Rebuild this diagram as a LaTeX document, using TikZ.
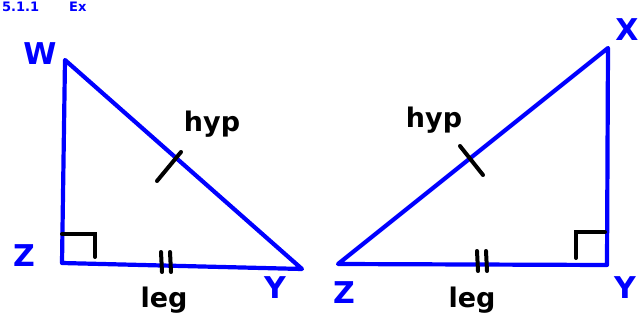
\documentclass[tikz,border=0pt]{standalone}
\usepackage{fontspec}
\setmainfont{DejaVu Sans}
\begin{document}
\begin{tikzpicture}[x=1pt,y=-1pt,
  side/.style={draw=blue,line width=4.2pt,line cap=round,line join=round},
  tickline/.style={draw=black,line width=4pt,line cap=round},
  lbl/.style={text=blue,font=\fontsize{30}{30}\selectfont\bfseries},
  word/.style={text=black,font=\fontsize{27}{27}\selectfont\bfseries}]
\useasboundingbox (0,0) rectangle (641,329);
\fill[white] (0,0) rectangle (641,329);
% heading
\node[text=blue,font=\fontsize{13}{13}\selectfont\bfseries,anchor=base west,inner sep=0pt] (hd) at (2,12) {5.1.1\hspace{30pt}Ex};
% left triangle
\coordinate (W) at (65,60);
\coordinate (Za) at (62,263);
\coordinate (Ya) at (302,269);
\draw[side] (W) -- (Za) -- (Ya) -- cycle;
\draw[tickline] (62,234) -- (95,234) -- (95,257);
\draw[tickline] (157,181) -- (181,152);
\draw[tickline] (161,252) -- (162,272);
\draw[tickline] (170,252) -- (171,272);
\node[lbl] (lW) at (40,54) {W};
\node[lbl] (lZa) at (24,256) {Z};
\node[lbl] (lYa) at (275,288) {Y};
\node[word] (hyp1) at (212,124) {hyp};
\node[word] (leg1) at (164,300) {leg};
% right triangle
\coordinate (X) at (608,48);
\coordinate (Zb) at (338,264);
\coordinate (Yb) at (607,265);
\draw[side] (Zb) -- (X) -- (Yb) -- cycle;
\draw[tickline] (576,258) -- (576,232) -- (605,232);
\draw[tickline] (460,146) -- (483,175);
\draw[tickline] (477,251) -- (478,271);
\draw[tickline] (486,251) -- (487,271);
\node[lbl] (lX) at (627,30) {X};
\node[lbl] (lZb) at (344,293) {Z};
\node[lbl] (lYb) at (625,288) {Y};
\node[word] (hyp2) at (434,120) {hyp};
\node[word] (leg2) at (472,300) {leg};
\end{tikzpicture}
\end{document}
